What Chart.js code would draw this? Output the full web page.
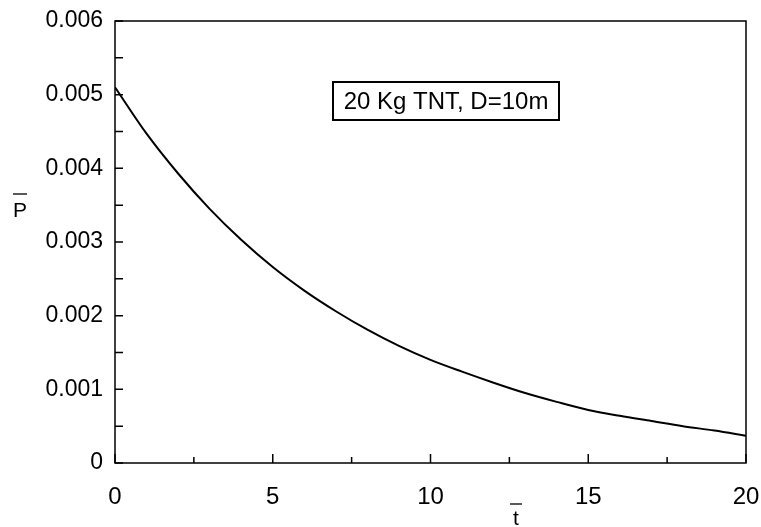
<!DOCTYPE html>
<html>
<head>
<meta charset="utf-8">
<script src="https://cdn.jsdelivr.net/npm/chart.js@4.4.1/dist/chart.umd.min.js"></script>
<style>
  html, body { margin: 0; padding: 0; background: #fff; }
  #wrap { width: 761px; height: 527px; }
</style>
</head>
<body>
<div id="wrap"><canvas id="pressureChart"></canvas></div>
<script>
// Non-dimensional time and overpressure
const timeValues = [0, 1, 2, 3, 4, 5, 6, 7, 8, 9, 10, 11, 12, 13, 14, 15, 16, 17, 18, 19, 20];
const pressureValues = [0.00510, 0.00447, 0.00393, 0.00345, 0.00303, 0.00266, 0.00234, 0.00206,
  0.00181, 0.00159, 0.00140, 0.00124, 0.00109, 0.00095, 0.00083, 0.00072, 0.00064, 0.00057,
  0.00050, 0.00044, 0.00037];

const xTicks = [0, 5, 10, 15, 20];
const xMinorTicks = [2.5, 7.5, 12.5, 17.5];
const yTicks = [0, 0.001, 0.002, 0.003, 0.004, 0.005, 0.006];
const yMinorTicks = [0.0005, 0.0015, 0.0025, 0.0035, 0.0045, 0.0055];
const caseLabel = '20 Kg TNT, D=10m';

const FONT = "'Liberation Sans', Arial, Helvetica, sans-serif";

// frame, inward ticks, axis symbols and the case box
const framePlugin = {
  id: 'frame',
  afterDraw(chart) {
    const ctx = chart.ctx;
    const area = chart.chartArea;
    const xs = chart.scales.x;
    const ys = chart.scales.y;

    ctx.save();
    ctx.strokeStyle = '#000';
    ctx.lineWidth = 1.5;
    ctx.strokeRect(area.left, area.top, area.right - area.left, area.bottom - area.top);

    ctx.beginPath();
    xTicks.forEach(v => {
      const px = xs.getPixelForValue(v);
      ctx.moveTo(px, area.bottom);
      ctx.lineTo(px, area.bottom - 9);
    });
    xMinorTicks.forEach(v => {
      const px = xs.getPixelForValue(v);
      ctx.moveTo(px, area.bottom);
      ctx.lineTo(px, area.bottom - 6);
    });
    yTicks.concat(yMinorTicks).forEach(v => {
      const py = ys.getPixelForValue(v);
      ctx.moveTo(area.left, py);
      ctx.lineTo(area.left + 8, py);
    });
    ctx.stroke();

    // axis symbols with overbars
    ctx.fillStyle = '#000';
    ctx.font = '21px ' + FONT;
    ctx.textAlign = 'center';
    ctx.textBaseline = 'middle';
    ctx.lineWidth = 1.3;

    ctx.fillText('P', 20, 211);
    ctx.beginPath();
    ctx.moveTo(13, 194);
    ctx.lineTo(27, 194);
    ctx.stroke();

    ctx.fillText('t', 516, 519);
    ctx.beginPath();
    ctx.moveTo(510, 504);
    ctx.lineTo(522, 504);
    ctx.stroke();

    // case label box
    const bx = 333, by = 82, bw = 226, bh = 38;
    ctx.fillStyle = '#fff';
    ctx.fillRect(bx, by, bw, bh);
    ctx.lineWidth = 2;
    ctx.strokeRect(bx, by, bw, bh);
    ctx.fillStyle = '#000';
    ctx.font = '24px ' + FONT;
    ctx.fillText(caseLabel, bx + bw / 2, by + bh / 2 + 1);
    ctx.restore();
  }
};

new Chart(document.getElementById('pressureChart'), {
  type: 'line',
  data: {
    labels: timeValues,
    datasets: [{
      data: timeValues.map((t, i) => ({ x: t, y: pressureValues[i] })),
      borderColor: '#000',
      borderWidth: 2,
      pointRadius: 0,
      fill: false,
      cubicInterpolationMode: 'monotone'
    }]
  },
  options: {
    responsive: true,
    maintainAspectRatio: false,
    animation: false,
    layout: { padding: { top: 21, right: 15, left: 0, bottom: 0 } },
    plugins: {
      legend: { display: false },
      tooltip: { enabled: false }
    },
    scales: {
      x: {
        type: 'linear',
        min: 0,
        max: 20,
        afterBuildTicks: scale => { scale.ticks = xTicks.map(v => ({ value: v })); },
        afterFit: scale => {
          scale.height = 64;
          scale.paddingLeft = 0;
          scale.paddingRight = 0;
        },
        grid: { display: false, drawTicks: false },
        border: { display: false },
        ticks: { color: '#000', padding: 20, maxRotation: 0, font: { size: 24, family: FONT } }
      },
      y: {
        min: 0,
        max: 0.006,
        afterBuildTicks: scale => { scale.ticks = yTicks.map(v => ({ value: v })); },
        afterFit: scale => {
          scale.width = 115;
          scale.paddingTop = 0;
          scale.paddingBottom = 0;
        },
        grid: { display: false, drawTicks: false },
        border: { display: false },
        ticks: {
          color: '#000',
          padding: 12,
          font: { size: 23, family: FONT },
          callback: v => (v === 0 ? '0' : v.toFixed(3))
        }
      }
    }
  },
  plugins: [framePlugin]
});
</script>
</body>
</html>
